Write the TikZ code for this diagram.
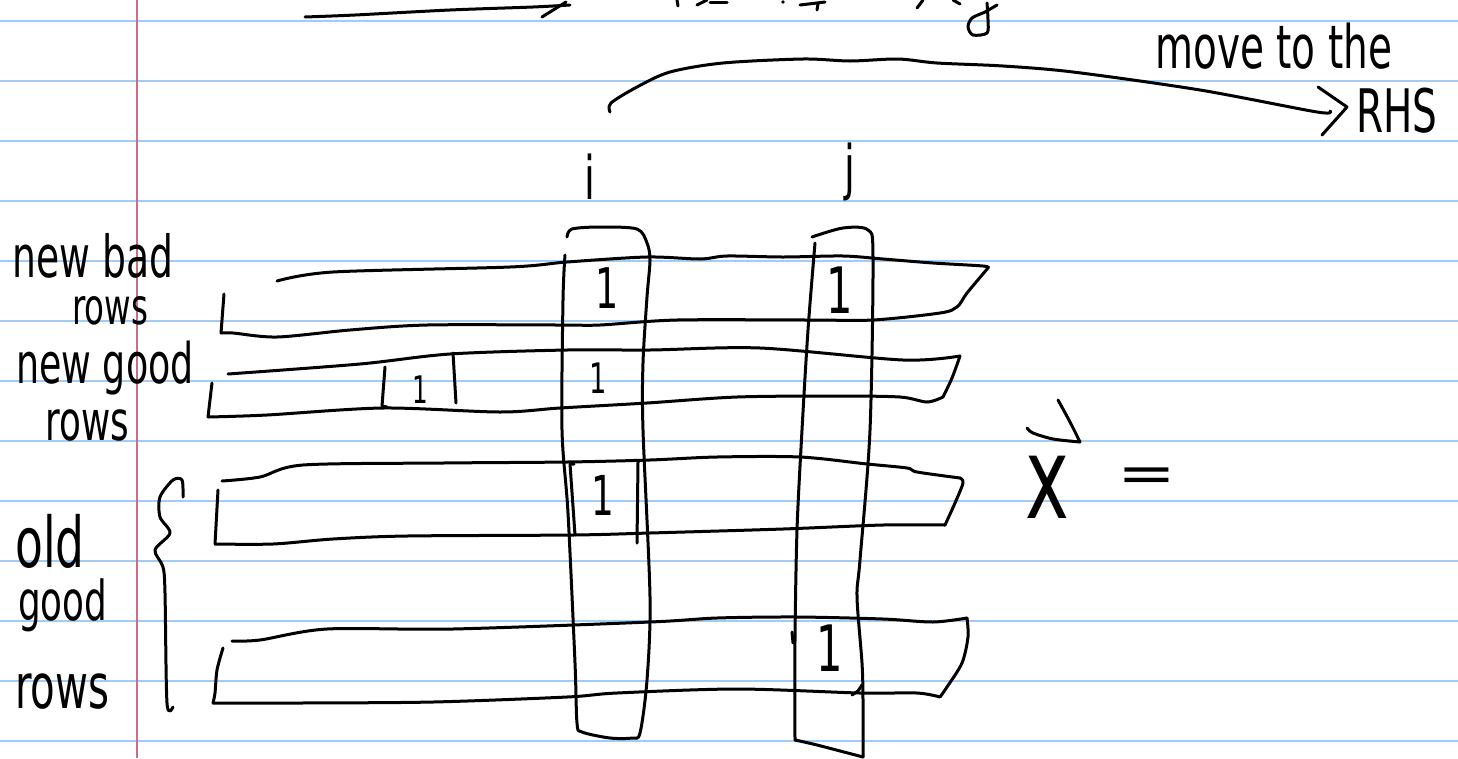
\documentclass[tikz,border=0pt]{standalone}
\usepackage{fontspec}
\newfontfamily\handfont[FakeStretch=0.65]{DejaVu Sans}
\newfontfamily\widefont[FakeStretch=1.35]{DejaVu Sans}
\newcommand\hwsize[1]{\handfont\fontsize{#1}{#1}\selectfont}
\definecolor{ruleblue}{RGB}{160,204,245}
\definecolor{marginred}{RGB}{200,110,135}
\tikzset{
  ink/.style={line width=3pt, line cap=round, line join=round, black},
  stroke/.style={smooth, tension=0.5},
  lbl/.style={inner sep=0pt, anchor=base west},
  digit/.style={inner sep=0pt, anchor=center},
}
\begin{document}
\begin{tikzpicture}[x=1pt,y=-1pt]
\useasboundingbox (0,0) rectangle (1458,758);
\fill[white] (0,0) rectangle (1458,758);
% ruled paper
\foreach \k in {0,...,12} {
  \draw[ruleblue, line width=2pt] (0,21+60*\k) -- (1458,21+60*\k);
}
\draw[marginred, line width=2.5pt] (137,0) -- (137,758);

% cut-off strokes at the top
\draw[ink] plot[stroke] coordinates {(305,17) (355,15) (450,10) (533,7) (570,5)};
\draw[ink] (542,17) -- (566,2);
\draw[ink] (677,0) -- (678,6);
\draw[ink] plot[stroke] coordinates {(697,5) (707,0)};
\draw[ink] (710,2) -- (727,2);
\fill (783,2) circle (1.8pt);
\draw[ink] plot[stroke] coordinates {(800,5) (817,3) (825,2)};
\draw[ink] (818,4) -- (817,10);
\draw[ink] (917,8) -- (923,0);
\draw[ink] (953,0) -- (960,4);
\draw[ink] plot[stroke] coordinates {(987,3) (988,20) (987,33) (973,35) (968,27) (972,18) (985,12) (997,5)};

% arc arrow "move to the RHS"
\draw[ink] plot[stroke] coordinates {(610,112) (611,103) (637,87) (670,72) (723,63) (803,59) (850,61) (898,59) (937,63) (1003,66) (1073,72) (1200,90) (1317,112) (1330,111)};
\draw[ink] (1318,87) -- (1347,107) -- (1322,135);
\node[lbl] (move) at (1155,68) {\hwsize{60}move to the};
\node[lbl] (rhs) at (1356,132) {\hwsize{60}RHS};

% column labels
\node[digit] (ilab) at (590,177) {\hwsize{60}i};
\node[digit] (jlab) at (850,172) {\hwsize{60}j};

% rows
% row 1
\draw[ink] (224,294) -- (221,333);
\draw[ink] plot[stroke] coordinates {(221,333) (233,333) (277,337) (350,330) (427,325) (560,325) (600,325) (677,320) (810,320) (873,320) (940,313) (957,307) (967,293) (988,268)};
\draw[ink] plot[stroke] coordinates {(988,268) (983,266) (933,263) (883,259) (843,256) (783,257) (727,256) (700,259) (647,257) (567,262) (510,267) (333,272) (277,281)};
% row 2
\draw[ink] (212,383) -- (208,417);
\draw[ink] plot[stroke] coordinates {(208,417) (267,415) (383,408) (500,412) (560,408) (647,403) (737,397) (837,396) (900,397) (927,402) (943,397)};
\draw[ink] plot[stroke] coordinates {(943,397) (952,378) (960,356)};
\draw[ink] plot[stroke] coordinates {(960,356) (903,360) (760,348) (650,350) (567,350) (450,354) (360,364) (228,374)};
% row 3
\draw[ink] (218,490) -- (215,544);
\draw[ink] plot[stroke] coordinates {(215,544) (273,544) (333,539) (407,536) (573,535) (650,533) (783,529) (883,525) (945,525)};
\draw[ink] plot[stroke] coordinates {(945,525) (955,503) (963,483) (960,478)};
\draw[ink] plot[stroke] coordinates {(960,478) (917,472) (907,468) (867,464) (800,457) (717,457) (650,460) (567,462) (443,463) (303,465) (260,477) (222,481)};
% row 4
\draw[ink] plot[stroke] coordinates {(223,648) (217,670) (215,693) (213,703)};
\draw[ink] plot[stroke] coordinates {(213,703) (300,703) (433,702) (567,697) (617,693) (737,689) (860,693) (917,693) (940,697)};
\draw[ink] plot[stroke] coordinates {(940,697) (947,687) (962,663) (968,637) (967,618)};
\draw[ink] plot[stroke] coordinates {(967,618) (933,622) (883,619) (797,617) (717,618) (650,622) (453,629) (327,629) (260,640) (232,641)};

% column i box
\draw[ink] plot[stroke] coordinates {(567,237) (572,229) (600,227) (637,229) (647,243) (650,260) (647,297) (643,363) (643,430) (650,597) (647,680) (640,733) (632,738) (610,738) (582,732) (577,723) (575,663) (568,513) (562,430) (563,300) (565,255)};
% column j box
\draw[ink] plot[stroke] coordinates {(812,237) (843,228) (868,230) (873,257) (870,430) (860,560) (857,597) (862,663) (863,700) (863,757)};
\draw[ink] plot[stroke] coordinates {(815,243) (808,330) (802,430) (797,530) (795,640) (795,740)};
\draw[ink] plot[stroke] coordinates {(795,740) (817,745) (863,757)};
\draw[ink] (792,632) -- (793,643);
\draw[ink] (852,695) -- (858,691) -- (862,685);

% brackets around single entries
\draw[ink] (385,367) -- (382,406) -- (387,407);
\draw[ink] (453,353) -- (456,403);
\draw[ink] (574,464) -- (570,464) -- (575,535);
\draw[ink] (638,462) -- (637,543);

% entries
\node[digit] (r1i) at (607,288) {\hwsize{56}1};
\node[digit] (r1j) at (840,290) {\hwsize{64}1};
\node[digit] (r2i) at (598,378) {\hwsize{42}1};
\node[digit] (r2a) at (420,390) {\hwsize{38}1};
\node[digit] (r3i) at (603,495) {\hwsize{55}1};
\node[digit] (r4j) at (830,648) {\hwsize{64}1};

% row labels
\node[lbl] (nb1) at (12,277) {\hwsize{58}new bad};
\node[lbl] (nb2) at (72,324) {\hwsize{50}rows};
\node[lbl] (ng1) at (16,383) {\hwsize{56}new good};
\node[lbl] (ng2) at (45,440) {\hwsize{55}rows};
\node[lbl] (og1) at (15,567) {\hwsize{70}old};
\node[lbl] (og2) at (18,620) {\hwsize{55}good};
\node[lbl] (og3) at (15,708) {\hwsize{62}rows};

% brace
\draw[ink] plot[stroke] coordinates {(183,497) (182,480) (173,480) (160,497) (160,517) (170,533) (155,550) (163,567) (165,593) (167,703) (173,707)};

% x vector
\draw[ink] plot[stroke] coordinates {(1058,400) (1070,422) (1080,442)};
\draw[ink] plot[stroke] coordinates {(1080,442) (1053,439) (1033,433) (1027,428)};
\node[digit] (xv) at (1047,487) {\hwsize{114}x};
\node[digit] (eq) at (1147,480) {\widefont\fontsize{52}{52}\selectfont =};
\end{tikzpicture}
\end{document}
